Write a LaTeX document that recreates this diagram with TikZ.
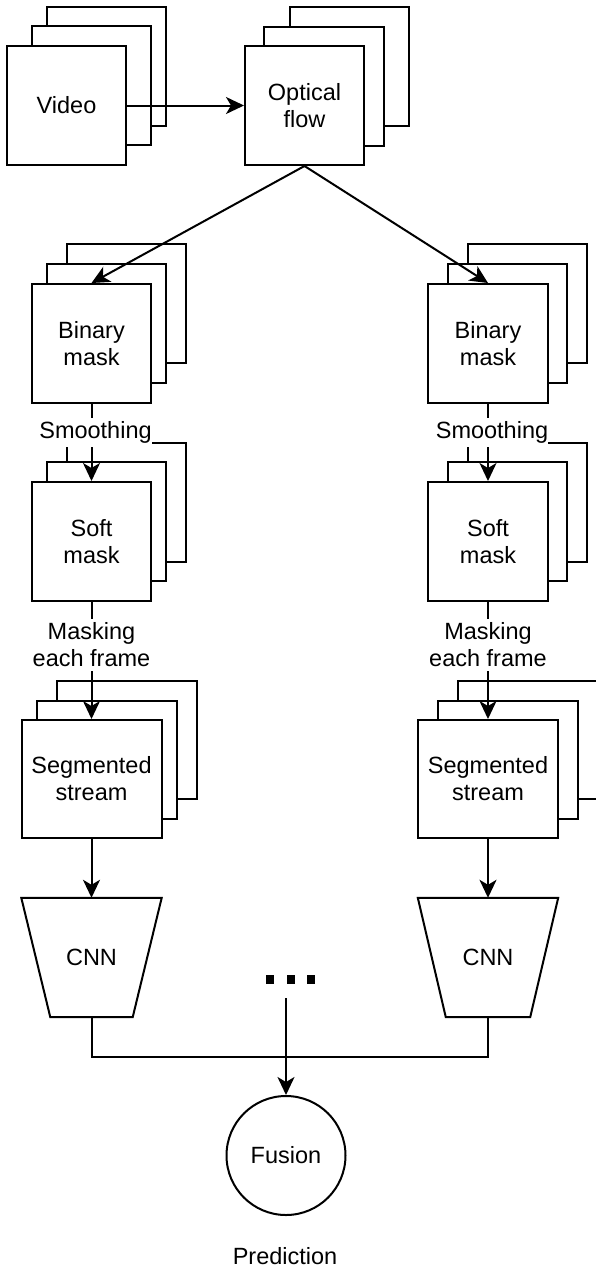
\documentclass[tikz,border=0pt]{standalone}
\usepackage{fontspec}
\setmainfont{Liberation Sans}
\usetikzlibrary{arrows.meta,calc}
\begin{document}
\begin{tikzpicture}[x=1pt,y=-1pt,
  every node/.style={font=\fontsize{23.5}{27}\selectfont},
  sheet/.style={draw, fill=white, line width=2pt, inner sep=0pt, align=center,
                minimum width=119pt, minimum height=119pt},
  wide/.style={sheet, minimum width=140pt, minimum height=118pt},
  wire/.style={line width=2pt},
  link/.style={wire, -{Stealth[length=18pt,width=17pt,inset=5pt]}},
  lbl/.style={fill=white, inner xsep=0pt, inner ysep=4pt, align=center},
  funnel/.style={draw=none, inner sep=0pt, minimum width=140pt, minimum height=119pt}]

\useasboundingbox (0,0) rectangle (596,1267);

% --- input video stack ---
\node[sheet] (video3) at (106.5,66) {};
\node[sheet] (video2) at (91.5,85.5) {};
\node[sheet] (video)  at (66.5,105.5) {Video};

% --- optical flow stack ---
\node[sheet] (flow3) at (349.5,66.5) {};
\node[sheet, minimum width=120pt] (flow2) at (324,86.5) {};
\node[sheet] (flow)  at (304.5,105.5) {Optical\\flow};

% --- binary masks ---
\node[sheet] (binL3) at (126.5,303.5) {};
\node[sheet] (binL2) at (106.5,323.5) {};
\node[sheet] (binL)  at (91.5,343.5) {Binary\\mask};
\node[sheet] (binR3) at (527.5,303.5) {};
\node[sheet] (binR2) at (507.5,323.5) {};
\node[sheet, minimum width=120pt] (binR) at (488,343.5) {Binary\\mask};

% --- soft masks ---
\node[sheet] (softL3) at (126.5,502.5) {};
\node[sheet] (softL2) at (106.5,521.5) {};
\node[sheet] (softL)  at (91.5,541.5) {Soft\\mask};
\node[sheet] (softR3) at (527.5,502.5) {};
\node[sheet] (softR2) at (507.5,521.5) {};
\node[sheet, minimum width=120pt] (softR) at (488,541.5) {Soft\\mask};

% --- segmented streams ---
\node[wide] (segL3) at (126.5,739.5) {};
\node[wide] (segL2) at (106.5,759.5) {};
\node[wide] (segL)  at (91.5,779) {Segmented\\stream};
\node[wide] (segR3) at (527.5,739.5) {};
\node[wide] (segR2) at (507.5,759.5) {};
\node[wide] (segR)  at (488,779) {Segmented\\stream};

% --- CNN funnels ---
\node[funnel] (cnnL) at (91.5,957.5) {CNN};
\node[funnel] (cnnR) at (488,957.5) {CNN};
\draw[wire] (cnnL.north west) -- (cnnL.north east) -- ($(cnnL.south east)+(-29,0)$)
  -- ($(cnnL.south west)+(29,0)$) -- cycle;
\draw[wire] (cnnR.north west) -- (cnnR.north east) -- ($(cnnR.south east)+(-28,0)$)
  -- ($(cnnR.south west)+(28,0)$) -- cycle;

% --- further streams and fusion ---
\node[inner sep=0pt, minimum height=38pt] (dots) at (290.5,979)
  {\rule{8pt}{9pt}\hspace{12.5pt}\rule{8pt}{9pt}\hspace{12.5pt}\rule{8pt}{9pt}};
\node[draw, circle, line width=2pt, inner sep=0pt, minimum size=119pt] (fusion) at (286,1155.5) {Fusion};
\node[inner sep=0pt] (pred) at (285,1256) {Prediction};

% --- connectors ---
\draw[link] (video.east) -- (flow.west);
\draw[link] (flow.south) -- (binL.north);
\draw[link] (flow.south) -- (binR.north);

\draw[link] (binL.south) -- node[lbl, pos=0.37, xshift=4pt] {Smoothing} (softL.north);
\draw[link] (binR.south) -- node[lbl, pos=0.37, xshift=4pt] {Smoothing} (softR.north);

\draw[link] (softL.south) -- node[lbl, pos=0.365] {Masking\\each frame} (segL.north);
\draw[link] (softR.south) -- node[lbl, pos=0.365] {Masking\\each frame} (segR.north);

\draw[link] (segL.south) -- (cnnL.north);
\draw[link] (segR.south) -- (cnnR.north);

\coordinate (join) at (286,1057);
\draw[wire] (cnnL.south) |- (join) -| (cnnR.south);
\draw[link] (dots.south -| fusion.north) -- (fusion.north);

\end{tikzpicture}
\end{document}
